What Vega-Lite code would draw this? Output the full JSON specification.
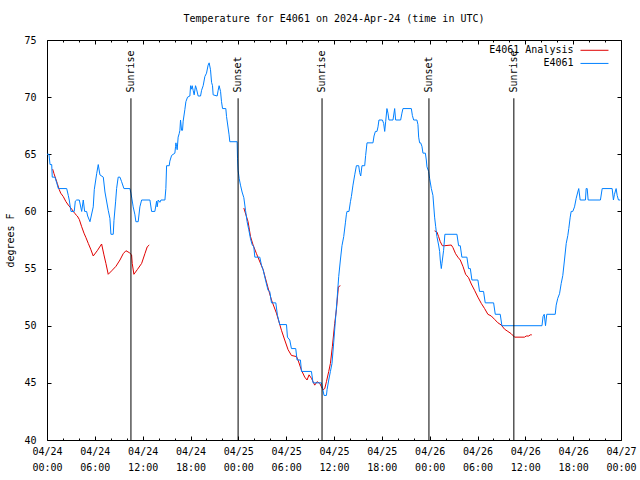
{
  "$schema": "https://vega.github.io/schema/vega-lite/v6.json",
  "width": 574,
  "height": 400,
  "autosize": {"type": "none"},
  "padding": {"left": 47, "top": 40, "right": 19, "bottom": 40},
  "background": "white",
  "title": {"text": "Temperature for E4061 on 2024-Apr-24 (time in UTC)", "font": "DejaVu Sans Mono", "fontSize": 10, "fontWeight": "normal", "color": "black", "anchor": "middle", "offset": 11},
  "config": {
    "view": {"stroke": "black", "strokeWidth": 1},
    "axis": {"grid": false, "domain": false, "labelFont": "DejaVu Sans Mono", "labelFontSize": 10, "labelColor": "black", "tickColor": "black", "tickWidth": 1, "titleFont": "DejaVu Sans Mono", "titleFontSize": 10, "titleFontWeight": "normal", "titleColor": "black", "labelOverlap": false}
  },
  "datasets": {
    "obs": [
      {"h":0,"t":65},{"h":0.25,"t":65},{"h":0.38,"t":64.1},{"h":0.59,"t":64.1},{"h":0.66,"t":63},{"h":1.0,"t":63},{"h":1.22,"t":62.5},{"h":1.42,"t":62},{"h":2.47,"t":62},{"h":2.67,"t":61.4},{"h":2.79,"t":61},{"h":3.01,"t":60},{"h":3.42,"t":60},{"h":3.55,"t":60.9},{"h":3.72,"t":61},{"h":4.05,"t":61},{"h":4.35,"t":60},{"h":4.55,"t":61},{"h":4.72,"t":60},{"h":4.97,"t":60},{"h":5.10,"t":59.6},{"h":5.39,"t":59.1},{"h":5.80,"t":60.4},{"h":5.93,"t":61.9},{"h":6.23,"t":63.3},{"h":6.43,"t":64.1},{"h":6.64,"t":63.2},{"h":7.06,"t":63},{"h":7.27,"t":61.7},{"h":7.68,"t":60.1},{"h":7.89,"t":59.4},{"h":8.02,"t":58},{"h":8.31,"t":58},{"h":8.40,"t":59.2},{"h":8.61,"t":60.9},{"h":8.73,"t":62},{"h":8.93,"t":63},{"h":9.15,"t":63},{"h":9.36,"t":62.6},{"h":9.65,"t":62},{"h":10.40,"t":62},{"h":10.53,"t":61.6},{"h":10.65,"t":61.1},{"h":10.81,"t":60.4},{"h":11.03,"t":59.7},{"h":11.15,"t":59.1},{"h":11.44,"t":59.1},{"h":11.65,"t":60.4},{"h":11.87,"t":61},{"h":12.91,"t":61},{"h":13.12,"t":60},{"h":13.53,"t":60},{"h":13.75,"t":60.9},{"h":13.82,"t":60.4},{"h":13.95,"t":61},{"h":14.16,"t":60.8},{"h":14.29,"t":61},{"h":14.79,"t":61},{"h":14.91,"t":62},{"h":15.0,"t":64},{"h":15.33,"t":64},{"h":15.41,"t":64.4},{"h":15.63,"t":64.9},{"h":16.04,"t":65.1},{"h":16.13,"t":65.7},{"h":16.17,"t":66},{"h":16.25,"t":65.7},{"h":16.33,"t":65.4},{"h":16.45,"t":66.5},{"h":16.58,"t":66.8},{"h":16.67,"t":67.1},{"h":16.75,"t":68},{"h":16.88,"t":67.1},{"h":17.0,"t":67.1},{"h":17.08,"t":67.9},{"h":17.29,"t":68.9},{"h":17.42,"t":69.6},{"h":17.63,"t":70},{"h":17.92,"t":70.1},{"h":18.01,"t":71},{"h":18.13,"t":70.7},{"h":18.21,"t":71},{"h":18.33,"t":70.6},{"h":18.46,"t":70.2},{"h":18.63,"t":71},{"h":18.76,"t":70.7},{"h":18.96,"t":70.1},{"h":19.26,"t":70.1},{"h":19.39,"t":70.6},{"h":19.59,"t":71},{"h":19.80,"t":71.8},{"h":20.01,"t":72.1},{"h":20.21,"t":72.8},{"h":20.34,"t":73},{"h":20.51,"t":72.4},{"h":20.64,"t":71.3},{"h":20.76,"t":71},{"h":20.84,"t":70.2},{"h":21.34,"t":70.1},{"h":21.47,"t":70.6},{"h":21.59,"t":71},{"h":21.77,"t":70.5},{"h":21.89,"t":69.6},{"h":22.02,"t":69},{"h":22.43,"t":69},{"h":22.52,"t":68.3},{"h":22.72,"t":67.3},{"h":22.84,"t":66.7},{"h":22.93,"t":66.1},{"h":23.85,"t":66.1},{"h":23.90,"t":64.6},{"h":23.97,"t":63.6},{"h":24.10,"t":62.9},{"h":24.27,"t":62.3},{"h":24.47,"t":61.7},{"h":24.69,"t":61.2},{"h":24.90,"t":60.1},{"h":25.10,"t":59.1},{"h":25.31,"t":58.4},{"h":25.53,"t":57.6},{"h":25.73,"t":57.1},{"h":25.94,"t":56.9},{"h":26.07,"t":56},{"h":26.69,"t":56},{"h":26.90,"t":55.3},{"h":27.11,"t":54.9},{"h":27.44,"t":53.9},{"h":27.73,"t":53.1},{"h":27.94,"t":53},{"h":28.16,"t":52},{"h":28.70,"t":52},{"h":28.91,"t":50.9},{"h":29.20,"t":50.1},{"h":30.04,"t":50.1},{"h":30.16,"t":49},{"h":30.45,"t":48.75},{"h":30.66,"t":48},{"h":31.20,"t":48},{"h":31.37,"t":47},{"h":31.79,"t":47},{"h":31.92,"t":46},{"h":33.17,"t":46},{"h":33.37,"t":45},{"h":34.42,"t":45},{"h":34.75,"t":43.9},{"h":35.05,"t":43.9},{"h":35.13,"t":44.4},{"h":35.34,"t":45.25},{"h":35.55,"t":46},{"h":35.75,"t":46.7},{"h":35.96,"t":48.5},{"h":36.18,"t":50.5},{"h":36.38,"t":52.25},{"h":36.59,"t":54.3},{"h":36.80,"t":55.75},{"h":37.00,"t":57.0},{"h":37.22,"t":57.8},{"h":37.43,"t":59.0},{"h":37.55,"t":59.7},{"h":37.63,"t":60},{"h":37.88,"t":60},{"h":38.06,"t":60.85},{"h":38.18,"t":61.3},{"h":38.38,"t":62.3},{"h":38.60,"t":63.2},{"h":38.81,"t":64},{"h":39.10,"t":64},{"h":39.22,"t":63.4},{"h":39.35,"t":63.1},{"h":39.51,"t":64},{"h":39.85,"t":64},{"h":39.97,"t":64.9},{"h":40.14,"t":66},{"h":40.89,"t":66},{"h":41.02,"t":66.6},{"h":41.19,"t":67},{"h":41.39,"t":67},{"h":41.52,"t":67.4},{"h":41.64,"t":68},{"h":42.07,"t":68},{"h":42.23,"t":67.7},{"h":42.36,"t":67},{"h":42.48,"t":67.85},{"h":42.64,"t":69},{"h":42.77,"t":68.6},{"h":42.89,"t":68},{"h":43.40,"t":68},{"h":43.61,"t":69},{"h":43.73,"t":68},{"h":44.36,"t":68},{"h":44.52,"t":68.6},{"h":44.65,"t":69},{"h":45.70,"t":69},{"h":45.83,"t":68.4},{"h":45.99,"t":68},{"h":46.40,"t":68},{"h":46.53,"t":67.6},{"h":46.62,"t":66.5},{"h":46.74,"t":66},{"h":46.87,"t":66},{"h":47.03,"t":65.7},{"h":47.16,"t":65.1},{"h":47.46,"t":65.1},{"h":47.58,"t":64.5},{"h":47.66,"t":63.9},{"h":47.87,"t":63.5},{"h":47.99,"t":62.9},{"h":48.21,"t":62},{"h":48.41,"t":61.4},{"h":48.62,"t":59.5},{"h":48.75,"t":58.7},{"h":48.91,"t":57.8},{"h":49.12,"t":57.06},{"h":49.25,"t":56.5},{"h":49.33,"t":55.75},{"h":49.46,"t":55},{"h":49.54,"t":55.45},{"h":49.75,"t":56.6},{"h":49.91,"t":58},{"h":51.42,"t":58},{"h":51.63,"t":57},{"h":51.84,"t":57},{"h":52.04,"t":56},{"h":52.67,"t":56},{"h":52.88,"t":55},{"h":53.10,"t":55},{"h":53.30,"t":54},{"h":54.05,"t":54},{"h":54.26,"t":53},{"h":54.76,"t":53},{"h":54.97,"t":52},{"h":56.02,"t":52},{"h":56.23,"t":51},{"h":56.85,"t":51},{"h":57.06,"t":50},{"h":62.09,"t":50},{"h":62.22,"t":50.8},{"h":62.37,"t":51},{"h":62.53,"t":50},{"h":62.69,"t":51},{"h":63.75,"t":51},{"h":63.87,"t":51.8},{"h":64.07,"t":52.4},{"h":64.29,"t":52.8},{"h":64.50,"t":53.7},{"h":64.70,"t":54.4},{"h":64.91,"t":55.75},{"h":65.13,"t":57.2},{"h":65.33,"t":57.9},{"h":65.45,"t":58.5},{"h":65.63,"t":59.5},{"h":65.75,"t":60},{"h":65.95,"t":60},{"h":66.17,"t":60.4},{"h":66.38,"t":61.15},{"h":66.58,"t":61.7},{"h":66.70,"t":62},{"h":66.88,"t":61},{"h":67.54,"t":61},{"h":67.63,"t":62},{"h":67.76,"t":62},{"h":67.88,"t":61},{"h":69.42,"t":61},{"h":69.64,"t":62},{"h":70.89,"t":62},{"h":71.05,"t":61},{"h":71.18,"t":61.5},{"h":71.39,"t":62},{"h":71.52,"t":61.4},{"h":71.68,"t":61},{"h":71.9,"t":61}
    ],
    "ana": [
      {"h":0.71,"t":63.7,"seg":1},{"h":0.88,"t":63.3,"seg":1},{"h":1.29,"t":62.45,"seg":1},{"h":1.54,"t":61.9,"seg":1},{"h":1.72,"t":61.6,"seg":1},{"h":2.04,"t":61.3,"seg":1},{"h":2.38,"t":60.85,"seg":1},{"h":2.67,"t":60.56,"seg":1},{"h":3.10,"t":60.2,"seg":1},{"h":3.51,"t":59.8,"seg":1},{"h":3.80,"t":59.6,"seg":1},{"h":4.05,"t":59.3,"seg":1},{"h":4.35,"t":58.66,"seg":1},{"h":4.64,"t":58.1,"seg":1},{"h":4.89,"t":57.7,"seg":1},{"h":5.18,"t":57.2,"seg":1},{"h":5.48,"t":56.7,"seg":1},{"h":5.80,"t":56.1,"seg":1},{"h":6.30,"t":56.56,"seg":1},{"h":6.85,"t":57.15,"seg":1},{"h":7.14,"t":56.2,"seg":1},{"h":7.39,"t":55.45,"seg":1},{"h":7.68,"t":54.5,"seg":1},{"h":8.11,"t":54.8,"seg":1},{"h":8.65,"t":55.2,"seg":1},{"h":9.15,"t":55.75,"seg":1},{"h":9.56,"t":56.3,"seg":1},{"h":9.90,"t":56.56,"seg":1},{"h":10.31,"t":56.4,"seg":1},{"h":10.61,"t":56.2,"seg":1},{"h":10.69,"t":55.45,"seg":1},{"h":10.90,"t":54.5,"seg":1},{"h":11.32,"t":54.9,"seg":1},{"h":11.87,"t":55.45,"seg":1},{"h":12.28,"t":56.3,"seg":1},{"h":12.57,"t":56.9,"seg":1},{"h":12.82,"t":57.06,"seg":1},
      {"h":24.69,"t":60.3,"seg":2},{"h":25.22,"t":59.1,"seg":2},{"h":25.53,"t":57.8,"seg":2},{"h":25.85,"t":57.06,"seg":2},{"h":26.28,"t":56.3,"seg":2},{"h":27.11,"t":54.9,"seg":2},{"h":27.73,"t":53.3,"seg":2},{"h":28.16,"t":52.25,"seg":2},{"h":28.78,"t":51.1,"seg":2},{"h":29.41,"t":49.6,"seg":2},{"h":29.82,"t":48.75,"seg":2},{"h":30.24,"t":47.9,"seg":2},{"h":30.66,"t":47.4,"seg":2},{"h":31.29,"t":47.3,"seg":2},{"h":31.49,"t":47.0,"seg":2},{"h":31.92,"t":46.1,"seg":2},{"h":32.33,"t":45.5,"seg":2},{"h":32.62,"t":45.25,"seg":2},{"h":32.87,"t":45.7,"seg":2},{"h":33.17,"t":45.4,"seg":2},{"h":33.58,"t":44.8,"seg":2},{"h":33.87,"t":45.1,"seg":2},{"h":34.21,"t":44.96,"seg":2},{"h":34.42,"t":44.66,"seg":2},{"h":34.62,"t":44.4,"seg":2},{"h":34.84,"t":44.5,"seg":2},{"h":35.05,"t":45.1,"seg":2},{"h":35.34,"t":46.0,"seg":2},{"h":35.55,"t":46.7,"seg":2},{"h":35.80,"t":48.2,"seg":2},{"h":36.09,"t":50.2,"seg":2},{"h":36.30,"t":51.4,"seg":2},{"h":36.55,"t":53.4,"seg":2},{"h":36.80,"t":53.5,"seg":2},
      {"h":48.62,"t":58.3,"seg":3},{"h":48.91,"t":58.2,"seg":3},{"h":49.12,"t":57.8,"seg":3},{"h":49.33,"t":57.35,"seg":3},{"h":49.59,"t":57.0,"seg":3},{"h":49.87,"t":57.0,"seg":3},{"h":50.71,"t":57.06,"seg":3},{"h":50.91,"t":56.85,"seg":3},{"h":51.25,"t":56.3,"seg":3},{"h":51.54,"t":56.0,"seg":3},{"h":51.84,"t":55.75,"seg":3},{"h":52.17,"t":55.2,"seg":3},{"h":52.51,"t":54.5,"seg":3},{"h":52.88,"t":54.2,"seg":3},{"h":53.22,"t":53.65,"seg":3},{"h":53.63,"t":53.1,"seg":3},{"h":54.05,"t":52.5,"seg":3},{"h":54.47,"t":51.96,"seg":3},{"h":54.89,"t":51.5,"seg":3},{"h":55.30,"t":51.0,"seg":3},{"h":55.73,"t":50.85,"seg":3},{"h":56.14,"t":50.56,"seg":3},{"h":56.55,"t":50.26,"seg":3},{"h":56.98,"t":50.06,"seg":3},{"h":57.39,"t":49.7,"seg":3},{"h":57.81,"t":49.5,"seg":3},{"h":58.23,"t":49.3,"seg":3},{"h":58.65,"t":49.0,"seg":3},{"h":59.90,"t":49.0,"seg":3},{"h":60.11,"t":49.1,"seg":3},{"h":60.44,"t":49.1,"seg":3},{"h":60.61,"t":49.2,"seg":3},{"h":60.81,"t":49.2,"seg":3}
    ],
    "sun": [
      {"h":10.53,"label":"Sunrise"},{"h":23.97,"label":"Sunset"},{"h":34.50,"label":"Sunrise"},{"h":47.91,"label":"Sunset"},{"h":58.56,"label":"Sunrise"}
    ]
  },
  "resolve": {"scale": {"x": "shared", "y": "shared"}, "axis": {"x": "independent", "y": "independent"}},
  "layer": [
    {
      "data": {"name": "ana"},
      "mark": {"type": "line", "color": "#e00000", "strokeWidth": 1},
      "encoding": {
        "x": {"field": "h", "type": "quantitative", "scale": {"domain": [0, 72], "nice": false, "zero": false},
          "axis": {"orient": "bottom", "title": null, "values": [0,6,12,18,24,30,36,42,48,54,60,66,72], "tickSize": -4, "labelPadding": 10, "labelBaseline": "top", "labelLineHeight": 16, "labelAlign": "center", "labelFlush": false,
            "labelExpr": "['04/' + (24 + floor(datum.value/24)), ((datum.value % 24) < 10 ? '0' : '') + (datum.value % 24) + ':00']"}},
        "y": {"field": "t", "type": "quantitative", "scale": {"domain": [40, 75], "nice": false, "zero": false},
          "axis": {"orient": "left", "title": "degrees F", "values": [40,45,50,55,60,65,70,75], "tickSize": -4, "labelPadding": 15, "titleX": -37, "titleY": 200, "titleAngle": 270, "titleAlign": "center", "titleBaseline": "middle"}},
        "detail": {"field": "seg"}
      }
    },
    {
      "data": {"name": "obs"},
      "mark": {"type": "line", "color": "#0080ff", "strokeWidth": 1},
      "encoding": {
        "x": {"field": "h", "type": "quantitative",
          "axis": {"orient": "top", "title": null, "labels": false, "values": [0,6,12,18,24,30,36,42,48,54,60,66,72], "tickSize": -4}},
        "y": {"field": "t", "type": "quantitative",
          "axis": {"orient": "right", "title": null, "labels": false, "values": [40,45,50,55,60,65,70,75], "tickSize": -4}}
      }
    },
    {
      "data": {"name": "sun"},
      "mark": {"type": "rule", "color": "black", "strokeWidth": 1},
      "encoding": {
        "x": {"field": "h", "type": "quantitative",
          "axis": {"orient": "bottom", "title": null, "labels": false, "values": [2,4,8,10,14,16,20,22,26,28,32,34,38,40,44,46,50,52,56,58,62,64,68,70], "tickSize": -2}},
        "y": {"datum": 40, "type": "quantitative", "axis": null},
        "y2": {"datum": 69.9}
      }
    },
    {
      "data": {"name": "sun"},
      "mark": {"type": "text", "angle": 270, "align": "left", "baseline": "middle", "font": "DejaVu Sans Mono", "fontSize": 10, "color": "black"},
      "encoding": {
        "x": {"field": "h", "type": "quantitative",
          "axis": {"orient": "top", "title": null, "labels": false, "values": [2,4,8,10,14,16,20,22,26,28,32,34,38,40,44,46,50,52,56,58,62,64,68,70], "tickSize": -2}},
        "y": {"datum": 70.4, "type": "quantitative", "axis": null},
        "text": {"field": "label"}
      }
    },
    {
      "data": {"values": [{"series": "E4061 Analysis"}]},
      "layer": [
        {
          "mark": {"type": "rule", "color": "#e00000", "strokeWidth": 1},
          "encoding": {
            "x": {"datum": 66.92, "type": "quantitative", "axis": null},
            "x2": {"datum": 70.43},
            "y": {"datum": 74.1, "type": "quantitative", "axis": null}
          }
        },
        {
          "mark": {"type": "text", "align": "right", "baseline": "middle", "font": "DejaVu Sans Mono", "fontSize": 10, "color": "black"},
          "encoding": {
            "x": {"datum": 66.04, "type": "quantitative", "axis": null},
            "y": {"datum": 74.1, "type": "quantitative", "axis": null},
            "text": {"field": "series"}
          }
        }
      ]
    },
    {
      "data": {"values": [{"series": "E4061"}]},
      "layer": [
        {
          "mark": {"type": "rule", "color": "#0080ff", "strokeWidth": 1},
          "encoding": {
            "x": {"datum": 66.92, "type": "quantitative", "axis": null},
            "x2": {"datum": 70.43},
            "y": {"datum": 72.95, "type": "quantitative", "axis": null}
          }
        },
        {
          "mark": {"type": "text", "align": "right", "baseline": "middle", "font": "DejaVu Sans Mono", "fontSize": 10, "color": "black"},
          "encoding": {
            "x": {"datum": 66.04, "type": "quantitative", "axis": null},
            "y": {"datum": 72.95, "type": "quantitative", "axis": null},
            "text": {"field": "series"}
          }
        }
      ]
    }
  ]
}
